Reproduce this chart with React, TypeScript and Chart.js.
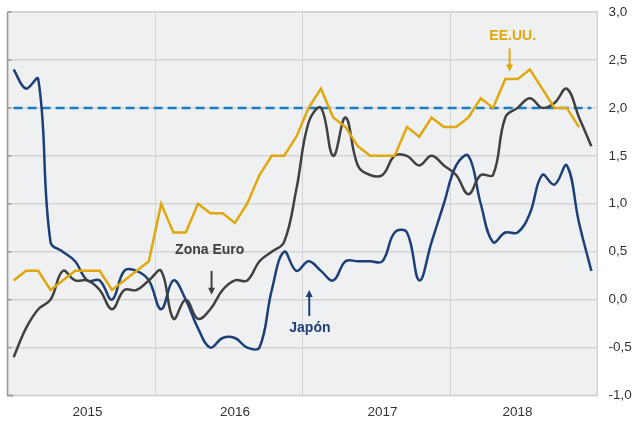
import React, { useEffect, useRef } from 'react';
import { Chart, registerables } from 'chart.js';
Chart.register(...registerables);

const years = ['2015', '2016', '2017', '2018'];
const yearLabelAt = [6.5, 18.5, 30.5, 41.5];
const yearLines = [0, 12, 24, 36, 48];
const yMin = -1;
const yMax = 3;
const yStep = 0.5;
const objetivo = 2.0;

const eeuu = [
  0.2, 0.3, 0.3, 0.1, 0.2, 0.3, 0.3, 0.3, 0.1, 0.2, 0.3, 0.4,
  1.0, 0.7, 0.7, 1.0, 0.9, 0.9, 0.8, 1.0, 1.3, 1.5, 1.5, 1.7,
  2.0, 2.2, 1.9, 1.8, 1.6, 1.5, 1.5, 1.5, 1.8, 1.7, 1.9, 1.8,
  1.8, 1.9, 2.1, 2.0, 2.3, 2.3, 2.4, 2.2, 2.0, 2.0, 1.8,
];

const zonaEuro = [
  -0.6, -0.3, -0.1, 0.0, 0.3, 0.2, 0.2, 0.1, -0.1, 0.1, 0.1, 0.2,
  0.3, -0.2, 0.0, -0.2, -0.1, 0.1, 0.2, 0.2, 0.4, 0.5, 0.6, 1.15,
  1.85, 2.0, 1.5, 1.9, 1.4, 1.3, 1.3, 1.5, 1.5, 1.4, 1.5, 1.4,
  1.3, 1.1, 1.3, 1.3, 1.9, 2.0, 2.1, 2.0, 2.05, 2.2, 1.9, 1.6,
];

const japon = [
  2.4, 2.2, 2.3, 0.6, 0.5, 0.4, 0.2, 0.2, 0.0, 0.3, 0.3, 0.2,
  -0.1, 0.2, 0.0, -0.3, -0.5, -0.4, -0.4, -0.5, -0.5, 0.1, 0.5, 0.3,
  0.4, 0.3, 0.2, 0.4, 0.4, 0.4, 0.4, 0.7, 0.7, 0.2, 0.6, 1.0,
  1.4, 1.5, 1.0, 0.6, 0.7, 0.7, 0.9, 1.3, 1.2, 1.4, 0.8, 0.3,
];

const NAVY = '#1c3f77';
const GOLD = '#e0a80a';
const GREY = '#404040';
const BLUE = '#1a7cc1';
const FONT = '"Liberation Sans", Arial, Helvetica, sans-serif';

const toPoints = (arr: number[]) => arr.map((v, i) => ({ x: i + 0.5, y: v }));

type Note = { text: string; color: string; tx: number; ty: number; ax: number; y0: number; y1: number };
const notes: Note[] = [
  { text: 'Zona Euro', color: GREY, tx: 16.45, ty: 0.515, ax: 16.6, y0: 0.3, y1: 0.05 },
  { text: 'Japón', color: NAVY, tx: 24.6, ty: -0.3, ax: 24.55, y0: -0.17, y1: 0.1 },
  { text: 'EE.UU.', color: GOLD, tx: 41.1, ty: 2.75, ax: 40.85, y0: 2.62, y1: 2.38 },
];

const framePlugin = {
  id: 'frame',
  beforeDraw(chart: any) {
    const { ctx, chartArea: a } = chart;
    ctx.save();
    ctx.fillStyle = '#eff0f2';
    ctx.fillRect(a.left, a.top, a.right - a.left, a.bottom - a.top);
    ctx.restore();
  },
  beforeDatasetsDraw(chart: any) {
    const { ctx, chartArea: a } = chart;
    ctx.save();
    ctx.strokeStyle = '#d6d6d8';
    ctx.lineWidth = 1;
    ctx.strokeRect(a.left + 0.5, a.top + 0.5, a.right - a.left - 1, a.bottom - a.top - 1);
    ctx.strokeStyle = '#9a9a9a';
    ctx.lineWidth = 1.5;
    ctx.beginPath();
    ctx.moveTo(a.left, a.top);
    ctx.lineTo(a.left, a.bottom);
    ctx.lineTo(a.left + 6, a.bottom);
    ctx.stroke();
    const ys = chart.scales.y;
    ctx.lineWidth = 1.5;
    for (let v = yMin; v <= yMax + 1e-9; v += yStep) {
      const py = ys.getPixelForValue(v);
      ctx.beginPath();
      ctx.moveTo(a.left, py);
      ctx.lineTo(a.left + 4, py);
      ctx.stroke();
    }
    ctx.restore();
  },
  afterDatasetsDraw(chart: any) {
    const { ctx } = chart;
    const xs = chart.scales.x;
    const ys = chart.scales.y;
    ctx.save();
    ctx.font = `bold 14px ${FONT}`;
    ctx.textAlign = 'center';
    ctx.textBaseline = 'middle';
    for (const n of notes) {
      ctx.fillStyle = n.color;
      ctx.strokeStyle = n.color;
      ctx.fillText(n.text, xs.getPixelForValue(n.tx), ys.getPixelForValue(n.ty));
      const ax = xs.getPixelForValue(n.ax);
      const p0 = ys.getPixelForValue(n.y0);
      const p1 = ys.getPixelForValue(n.y1);
      const dir = p1 > p0 ? 1 : -1;
      ctx.lineWidth = 2;
      ctx.beginPath();
      ctx.moveTo(ax, p0);
      ctx.lineTo(ax, p1 - dir * 5);
      ctx.stroke();
      ctx.beginPath();
      ctx.moveTo(ax, p1);
      ctx.lineTo(ax - 3.5, p1 - dir * 7);
      ctx.lineTo(ax + 3.5, p1 - dir * 7);
      ctx.closePath();
      ctx.fill();
    }
    ctx.restore();
  },
};

export default function App() {
  const ref = useRef<HTMLCanvasElement | null>(null);
  useEffect(() => {
    document.body.style.margin = '0';
    const canvas = ref.current;
    if (!canvas) return;
    const chart = new Chart(canvas, {
      type: 'line',
      data: {
        datasets: [
          {
            label: 'EE.UU.',
            data: toPoints(eeuu),
            borderColor: GOLD,
            borderWidth: 2.5,
            tension: 0,
            pointRadius: 0,
            order: 1,
          },
          {
            label: 'Zona Euro',
            data: toPoints(zonaEuro),
            borderColor: GREY,
            borderWidth: 2.5,
            tension: 0.4,
            pointRadius: 0,
            order: 2,
          },
          {
            label: 'Japón',
            data: toPoints(japon),
            borderColor: NAVY,
            borderWidth: 2.5,
            tension: 0.4,
            pointRadius: 0,
            order: 3,
          },
          {
            label: 'Objetivo',
            data: toPoints(japon.map(() => objetivo)),
            borderColor: BLUE,
            borderWidth: 2.5,
            borderDash: [9, 5],
            tension: 0,
            pointRadius: 0,
            order: 4,
          },
        ],
      },
      options: {
        animation: false,
        responsive: false,
        maintainAspectRatio: false,
        layout: { padding: { top: 12, left: 7.5, right: 0, bottom: 0 } },
        plugins: { legend: { display: false }, tooltip: { enabled: false } },
        scales: {
          x: {
            type: 'linear',
            min: 0,
            max: years.length * 12,
            afterBuildTicks: (s: any) => {
              const vals = [...yearLines, ...yearLabelAt].sort((a, b) => a - b);
              s.ticks = vals.map((v) => ({ value: v }));
            },
            afterFit: (s: any) => {
              s.height = 27.5;
              s.paddingLeft = 0;
              s.paddingRight = 0;
            },
            border: { display: false },
            grid: {
              drawTicks: false,
              lineWidth: 1,
              color: (c: any) =>
                c.tick && yearLines.includes(c.tick.value) ? '#d4d4d6' : 'rgba(0,0,0,0)',
            },
            ticks: {
              autoSkip: false,
              maxRotation: 0,
              padding: 9,
              color: '#333333',
              font: { family: FONT, size: 13.5 },
              callback: (v: any) => {
                const idx = yearLabelAt.indexOf(Number(v));
                return idx >= 0 ? years[idx] : '';
              },
            },
          },
          y: {
            position: 'right',
            min: yMin,
            max: yMax,
            afterFit: (s: any) => {
              s.width = 39.5;
              s.paddingTop = 0;
              s.paddingBottom = 0;
            },
            border: { display: false },
            grid: { drawTicks: false, color: '#d4d4d6', lineWidth: 1.5 },
            ticks: {
              stepSize: yStep,
              padding: 11,
              color: '#333333',
              font: { family: FONT, size: 13.5 },
              callback: (v: any) => Number(v).toFixed(1).replace('.', ','),
            },
          },
        },
      },
      plugins: [framePlugin],
    } as any);
    return () => chart.destroy();
  }, []);
  return (
    <div style={{ width: 637, height: 423 }}>
      <canvas ref={ref} width={637} height={423} />
    </div>
  );
}
